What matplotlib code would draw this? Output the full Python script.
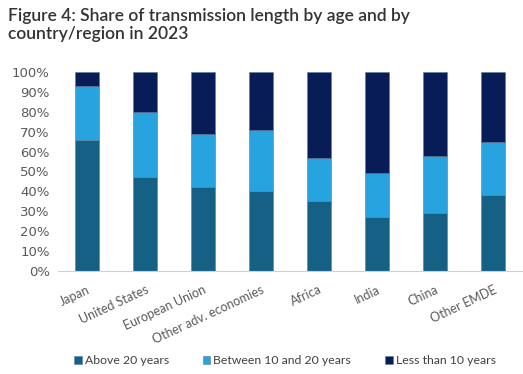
import numpy as np
import matplotlib.pyplot as plt
from matplotlib.ticker import PercentFormatter

regions = ['Japan', 'United States', 'European Union', 'Other adv. economies',
           'Africa', 'India', 'China', 'Other EMDE']
above_20 = [66, 47, 42, 40, 35, 27, 29, 38]
between_10_20 = [27, 33, 27, 31, 22, 22, 29, 27]
less_10 = [7, 20, 31, 29, 43, 51, 42, 35]
series_names = ['Above 20 years', 'Between 10 and 20 years', 'Less than 10 years']
colors = ['#156186', '#27a3df', '#081d58']

fig = plt.figure(figsize=(5.23, 3.74), dpi=100)
ax = fig.add_axes([58/523, 1 - 271/374, 464/523, 199/374])

x = np.arange(len(regions))
bottom = np.zeros(len(regions))
for vals, name, c in zip([above_20, between_10_20, less_10], series_names, colors):
    ax.bar(x, vals, 0.41, bottom=bottom, color=c, label=name,
           edgecolor='#5a7b99', linewidth=0.4)
    bottom += np.array(vals)

ax.set_xlim(-0.5, len(regions) - 0.5)
ax.set_ylim(0, 100)
ax.set_yticks(np.arange(0, 101, 10))
ax.yaxis.set_major_formatter(PercentFormatter(decimals=0))
for s in ['top', 'right', 'left']:
    ax.spines[s].set_visible(False)
ax.spines['bottom'].set_color('#d0d0d0')
ax.tick_params(axis='both', length=0)
ax.tick_params(axis='y', labelsize=9.5, labelcolor='#595959', pad=6)
for t in ax.get_yticklabels():
    t.set_family(['Liberation Sans Narrow', 'DejaVu Sans'])
ax.set_xticks(x)
ax.set_xticklabels(regions, rotation=25, ha='right', rotation_mode='anchor',
                   fontsize=9, color='#595959', family='Lato')
ax.tick_params(axis='x', pad=9)

fig.text(8/523, 1 - 8/374, 'Figure 4: Share of transmission length by age and by\ncountry/region in 2023',
         ha='left', va='top', fontsize=12.5, color='#333333', family='Lato',
         fontweight='semibold', linespacing=1.15)

leg = fig.legend(loc='center', bbox_to_anchor=(0.545, 1 - 361/374), ncol=3,
                 frameon=False, handlelength=0.6, handleheight=0.6,
                 handletextpad=0.25, columnspacing=2.8, prop={'family': 'Lato', 'size': 8.8})
for t in leg.get_texts():
    t.set_color('#404040')

fig.savefig('out.png', dpi=100)
